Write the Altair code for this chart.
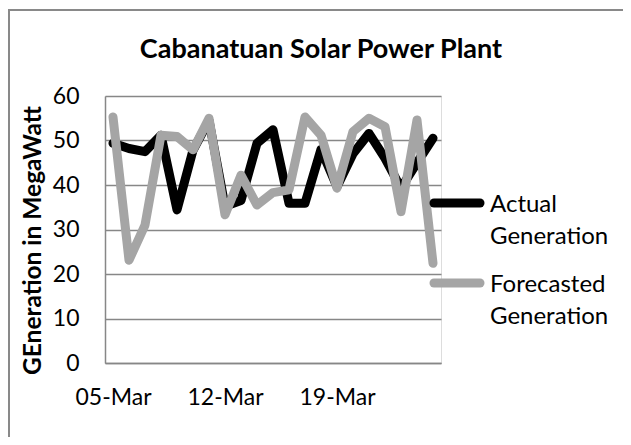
import altair as alt
import pandas as pd

# ---- data ----
days = [5, 6, 7, 8, 9, 10, 11, 12, 13, 14, 15, 16, 17, 18, 19, 20, 21, 22, 23, 24, 25]
actual = [49.4, 48.2, 47.5, 51.2, 34.4, 47.8, 54.5, 35.2, 36.5, 49.4, 52.4, 35.9, 35.9,
          48.0, 39.6, 47.0, 51.6, 46.0, 39.3, 45.0, 50.5]
forecast = [55.3, 23.1, 31.0, 51.2, 50.9, 47.9, 55.0, 33.3, 42.2, 35.5, 38.3, 38.9, 55.3,
            51.2, 39.3, 52.0, 55.0, 53.1, 34.0, 54.6, 22.4]
series_names = ["Actual Generation", "Forecasted Generation"]
legend_lines = [["Actual", "Generation"], ["Forecasted", "Generation"]]
series_colors = ["#000000", "#a5a5a5"]
x_ticks = [5, 12, 19]
y_ticks = [0, 10, 20, 30, 40, 50, 60]
month_label = "Mar"
chart_title = "Cabanatuan Solar Power Plant"
y_title = "GEneration in MegaWatt"

df = pd.DataFrame({
    "day": days * 2,
    "value": actual + forecast,
    "series": [series_names[0]] * len(days) + [series_names[1]] * len(days),
})

FONT = "Lato"
W, H = 336, 267
PAD_L, PAD_T = 97, 88
GRID = "#878787"

x_enc = alt.X(
    "day:Q",
    scale=alt.Scale(domain=[4.5, 25.5], nice=False, zero=False),
    axis=alt.Axis(
        values=x_ticks,
        labelExpr="(datum.value < 10 ? '0' : '') + datum.value + '-" + month_label + "'",
        grid=False, ticks=False, domainColor=GRID, domainWidth=1.5,
        labelPadding=23, labelFontSize=23, labelFont=FONT, labelColor="#000000",
        title=None,
    ),
)
y_enc = alt.Y(
    "value:Q",
    scale=alt.Scale(domain=[0, 60], nice=False),
    axis=alt.Axis(
        values=y_ticks, grid=True, gridColor=GRID, gridWidth=1.5,
        ticks=False, domainColor=GRID, domainWidth=1.5,
        labelPadding=26, labelFontSize=23, labelFont=FONT, labelColor="#000000",
        title=y_title, titleFont=FONT, titleFontSize=24.5, titleFontWeight="bold",
        titleColor="#000000", titleX=-65, titleY=144, titleAngle=270,
        titleAlign="center", titleBaseline="alphabetic",
    ),
)
color = alt.Color("series:N", scale=alt.Scale(domain=series_names, range=series_colors), legend=None)

base = alt.Chart(df)
layers = []
for name in series_names:
    layers.append(
        base.transform_filter(alt.datum.series == name)
        .mark_line(strokeWidth=9, strokeJoin="round", strokeCap="round")
        .encode(x=x_enc, y=y_enc, color=color)
    )

one = alt.Data(values=[{"k": 1}])

# manual legend
leg_y = [107, 187]
for name, lines, col, ly in zip(series_names, legend_lines, series_colors, leg_y):
    layers.append(
        alt.Chart(one).mark_rule(color=col, strokeWidth=9, strokeCap="round")
        .encode(x=alt.value(329), x2=alt.value(375), y=alt.value(ly))
    )
    layers.append(
        alt.Chart(one).mark_text(text=lines, font=FONT, fontSize=24, align="left",
                                 baseline="alphabetic", lineHeight=32, color="#000000")
        .encode(x=alt.value(385), y=alt.value(ly + 9))
    )

# title
layers.append(
    alt.Chart(one).mark_text(text=chart_title, font=FONT, fontSize=27, fontWeight="bold",
                             align="center", baseline="alphabetic", color="#000000")
    .encode(x=alt.value(216), y=alt.value(-38))
)

# chart-area border (left and top edges visible)
layers.append(
    alt.Chart(one).mark_rule(color="#898989", strokeWidth=2)
    .encode(x=alt.value(-96), y=alt.value(-86), y2=alt.value(360))
)
layers.append(
    alt.Chart(one).mark_rule(color="#898989", strokeWidth=2)
    .encode(x=alt.value(-97), x2=alt.value(540), y=alt.value(-86))
)

chart = alt.layer(*layers).properties(
    width=W, height=H,
    autosize=alt.AutoSizeParams(type="none"),
    padding={"left": PAD_L, "top": PAD_T, "right": 182, "bottom": 74},
).configure_view(stroke=None).configure(background="white")

chart.save("out.html", embed_options={"renderer": "svg", "actions": False})
